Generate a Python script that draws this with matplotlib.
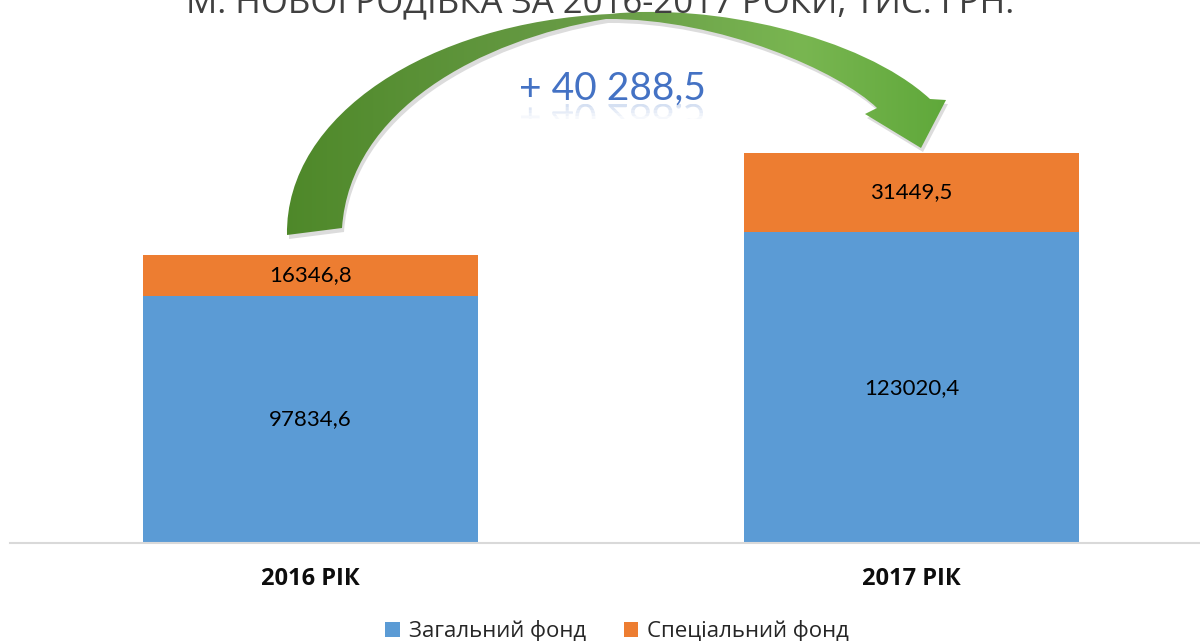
import matplotlib
matplotlib.use("Agg")
import matplotlib.pyplot as plt
import numpy as np
from matplotlib.path import Path
from matplotlib.patches import PathPatch, Rectangle
from matplotlib.colors import LinearSegmentedColormap
from matplotlib.textpath import TextPath
from matplotlib.font_manager import FontProperties
from matplotlib.transforms import Affine2D

# data
years = ['2016 РІК', '2017 РІК']
general_fund = [97834.6, 123020.4]
special_fund = [16346.8, 31449.5]
general_labels = ['97834,6', '123020,4']
special_labels = ['16346,8', '31449,5']
series_names = ['Загальний фонд', 'Спеціальний фонд']
growth_label = '+ 40 288,5'
title_text = 'М. НОВОГРОДІВКА ЗА 2016-2017 РОКИ, ТИС. ГРН.'

blue = '#5b9bd5'
orange = '#ed7d31'

fig = plt.figure(figsize=(12, 6.41), dpi=100)

# main bar axes
ax = fig.add_axes([10 / 1200, 98 / 641, 1190 / 1200, 543 / 641])
x = np.arange(len(years))
b1 = ax.bar(x, general_fund, width=0.557, color=blue, label=series_names[0])
b2 = ax.bar(x, special_fund, width=0.557, bottom=general_fund, color=orange,
            label=series_names[1])
ax.set_xlim(-0.5, 1.48)
ax.set_ylim(0, 215000)
for side in ['top', 'right', 'left']:
    ax.spines[side].set_visible(False)
ax.spines['bottom'].set_color('#d9d9d9')
ax.spines['bottom'].set_linewidth(1.5)
ax.set_yticks([])
ax.set_xticks(x)
ax.set_xticklabels(years, fontsize=17, fontweight='bold', family='Open Sans',
                   color='#0d0d0d')
ax.tick_params(axis='x', length=0, pad=17)

for i in range(len(years)):
    ax.text(x[i], general_fund[i] / 2, general_labels[i], ha='center', va='center',
            fontsize=16, family='Lato', color='black')
    ax.text(x[i], general_fund[i] + special_fund[i] / 2, special_labels[i],
            ha='center', va='center', fontsize=16, family='Lato', color='black')

leg = fig.legend(handles=[b1, b2], labels=series_names, loc='center',
                 bbox_to_anchor=(617 / 1200, 1 - 631 / 641), ncol=2, frameon=False,
                 prop={'family': 'Open Sans', 'size': 16}, handlelength=0.65,
                 handleheight=0.65, columnspacing=1.7, handletextpad=0.4)
for t in leg.get_texts():
    t.set_color('#262626')

# overlay for the curved arrow and texts (pixel coordinates, y down)
ov = fig.add_axes([0, 0, 1, 1])
ov.set_xlim(0, 1200)
ov.set_ylim(641, 0)
ov.axis('off')
ov.patch.set_alpha(0)

verts = [
    (287, 235),
    (285, 115), (430, 22), (610, 14),
    (710, 3), (860, 35), (930, 99),
    (946, 100),
    (921, 148),
    (865, 114),
    (877, 108),
    (840, 72), (720, 18), (606, 19),
    (480, 40), (350, 110), (342, 228),
    (287, 235),
]
codes = [Path.MOVETO,
         Path.CURVE4, Path.CURVE4, Path.CURVE4,
         Path.CURVE4, Path.CURVE4, Path.CURVE4,
         Path.LINETO, Path.LINETO, Path.LINETO, Path.LINETO,
         Path.CURVE4, Path.CURVE4, Path.CURVE4,
         Path.CURVE4, Path.CURVE4, Path.CURVE4,
         Path.CLOSEPOLY]
arrow_path = Path(verts, codes)
shadow_path = Path(np.array(verts) + np.array([2, 4]), codes)
ov.add_patch(PathPatch(shadow_path, facecolor='#8c8c8c', edgecolor='none',
                       alpha=0.3, zorder=0.5))
clip = PathPatch(arrow_path, facecolor='none', edgecolor='none')
ov.add_patch(clip)
cmap = LinearSegmentedColormap.from_list(
    'g', [(0.0, '#4e8829'), (0.48, '#6a9d48'), (0.78, '#79b651'), (1.0, '#5fa83a')])
grad = np.linspace(0, 1, 256).reshape(1, -1)
img = ov.imshow(grad, cmap=cmap, extent=(280, 950, 240, 0), aspect='auto',
                interpolation='bilinear', zorder=1)
img.set_clip_path(clip)

# growth label with a faint reflection
fsize = 28
ov.text(612, 100, growth_label, ha='center', va='baseline', fontsize=fsize,
        family='Lato', color='#4472c4', zorder=3)
tp = TextPath((0, 0), growth_label, size=fsize * 100 / 72,
              prop=FontProperties(family='Lato'))
ext = tp.get_extents()
refl = Affine2D().translate(612 - (ext.x0 + ext.x1) / 2, 104).transform_path(tp)
for k in range(5):
    p = PathPatch(refl, facecolor='#4472c4', edgecolor='none',
                  alpha=0.22 * (1 - k / 5), zorder=3)
    ov.add_patch(p)
    p.set_clip_path(Rectangle((0, 104 + k * 3), 1200, 3, transform=ov.transData))

fig.text(0.5, 1 - 12 / 641, title_text, ha='center', va='baseline', fontsize=25,
         family='Open Sans', color='#404040')

fig.savefig('out.png', dpi=100)
